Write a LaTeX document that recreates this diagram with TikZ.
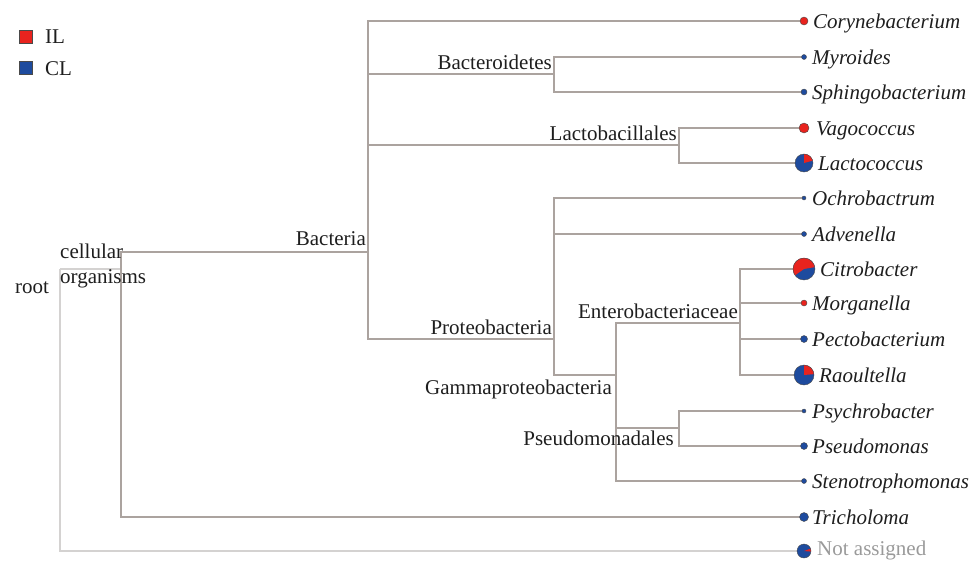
\documentclass[tikz,border=0pt]{standalone}
\usepackage{fontspec}
\setmainfont{Liberation Serif}
\definecolor{ilred}{HTML}{E8231E}
\definecolor{clblue}{HTML}{1E4B9E}
\definecolor{branch}{HTML}{ABA39F}
\definecolor{rootline}{HTML}{D4D2D1}
\definecolor{txt}{HTML}{1E1E1E}
\definecolor{pieedge}{HTML}{4A4A4A}
\definecolor{natxt}{HTML}{9A9A9A}
\newcommand\mkleaf[4]{%
  \coordinate (L#1) at (804,#2);
  \node[leaftext] (T#1) at (#3,#2+7) {#4};}
\newcommand\pieblue[2]{\filldraw[fill=clblue,draw=pieedge,line width=0.4pt] (#1) circle[radius=#2];}
\newcommand\piered[2]{\filldraw[fill=ilred,draw=pieedge,line width=0.4pt] (#1) circle[radius=#2];}
\newcommand\piemix[4]{%
  \fill[clblue] (#1) circle[radius=#2];
  \fill[ilred] (#1) -- ++(#3:#2) arc[start angle=#3,end angle=#4,radius=#2] -- cycle;
  \draw[pieedge,line width=0.4pt] (#1) circle[radius=#2];}
\begin{document}
\begin{tikzpicture}[x=1pt,y=-1pt,
  font=\fontsize{21}{24}\selectfont,
  every node/.style={inner sep=0pt,text=txt},
  lab/.style={anchor=base east},
  leaftext/.style={anchor=base west,font=\fontsize{21}{24}\selectfont\itshape},
  br/.style={draw=branch,line width=1.3pt},
  rl/.style={draw=rootline,line width=1.1pt},
  legsq/.style={draw=pieedge,line width=0.8pt,minimum size=13pt}]
\useasboundingbox (0,0) rectangle (973,560);

% internal nodes
\coordinate (root) at (60,269);
\coordinate (cell) at (121,269);
\coordinate (bact) at (368,252);
\coordinate (bacter) at (554,74);
\coordinate (lactob) at (679,145);
\coordinate (proteo) at (554,339);
\coordinate (gamma) at (616,375);
\coordinate (entero) at (740,323);
\coordinate (pseudom) at (679,428);

% leaves
\mkleaf{cory}{21}{813}{Corynebacterium}
\mkleaf{myro}{57}{812}{Myroides}
\mkleaf{sphingo}{92}{812}{Sphingobacterium}
\mkleaf{vago}{128}{816}{Vagococcus}
\mkleaf{lactoc}{163}{818}{Lactococcus}
\mkleaf{ochro}{198}{812}{Ochrobactrum}
\mkleaf{adven}{234}{812}{Advenella}
\mkleaf{citro}{269}{820}{Citrobacter}
\mkleaf{morg}{303}{812}{Morganella}
\mkleaf{pecto}{339}{812}{Pectobacterium}
\mkleaf{raoul}{375}{819}{Raoultella}
\mkleaf{psych}{411}{812}{Psychrobacter}
\mkleaf{pseudo}{446}{812}{Pseudomonas}
\mkleaf{steno}{481}{812}{Stenotrophomonas}
\mkleaf{trich}{517}{812}{Tricholoma}
\coordinate (Lna) at (804,551);
\node[anchor=base west,text=natxt] (Tna) at (817,555) {Not assigned};

% root-level connectors
\draw[rl] (root) -- (cell);
\draw[rl] (root) |- (Lna);

% branches
\draw[br] (cell) |- (bact);
\draw[br] (cell) |- (Ltrich);
\draw[br] (bact) |- (Lcory);
\draw[br] (bact) |- (bacter);
\draw[br] (bact) |- (lactob);
\draw[br] (bact) |- (proteo);
\draw[br] (bacter) |- (Lmyro);
\draw[br] (bacter) |- (Lsphingo);
\draw[br] (lactob) |- (Lvago);
\draw[br] (lactob) |- (Llactoc);
\draw[br] (proteo) |- (Lochro);
\draw[br] (proteo) |- (Ladven);
\draw[br] (proteo) |- (gamma);
\draw[br] (gamma) |- (entero);
\draw[br] (gamma) |- (pseudom);
\draw[br] (gamma) |- (Lsteno);
\draw[br] (entero) |- (Lcitro);
\draw[br] (entero) |- (Lmorg);
\draw[br] (entero) |- (Lpecto);
\draw[br] (entero) |- (Lraoul);
\draw[br] (pseudom) |- (Lpsych);
\draw[br] (pseudom) |- (Lpseudo);

% labels of internal nodes
\node[lab] (nbact) at (366,245) {Bacteria};
\node[lab] (nbacter) at (552,69) {Bacteroidetes};
\node[lab] (nlactob) at (677,140) {Lactobacillales};
\node[lab] (nproteo) at (552,334) {Proteobacteria};
\node[lab] (nentero) at (738,318) {Enterobacteriaceae};
\node[lab] (ngamma) at (612,394) {Gammaproteobacteria};
\node[lab] (npseudom) at (674,445) {Pseudomonadales};
\node[anchor=base west] (ncell1) at (60,258) {cellular};
\node[anchor=base west] (ncell2) at (60,283) {organisms};
\node[anchor=base west] (nroot) at (15,293) {root};

% pies
\piered{Lcory}{4}
\pieblue{Lmyro}{2.5}
\pieblue{Lsphingo}{3}
\piered{Lvago}{5}
\piemix{Llactoc}{9}{-15}{-90}
\pieblue{Lochro}{2}
\pieblue{Ladven}{2.5}
\piemix{Lcitro}{11}{-10}{-215}
\piered{Lmorg}{3}
\pieblue{Lpecto}{3.5}
\piemix{Lraoul}{10}{-5}{-90}
\pieblue{Lpsych}{2}
\pieblue{Lpseudo}{3.5}
\pieblue{Lsteno}{2.5}
\pieblue{Ltrich}{4.5}
\piemix{Lna}{7}{5}{-20}

% legend
\node[legsq,fill=ilred] (sqIL) at (25.5,36.5) {};
\node[anchor=base west] (tIL) at (45,43) {IL};
\node[legsq,fill=clblue] (sqCL) at (25.5,67.5) {};
\node[anchor=base west] (tCL) at (45,75) {CL};
\end{tikzpicture}
\end{document}
